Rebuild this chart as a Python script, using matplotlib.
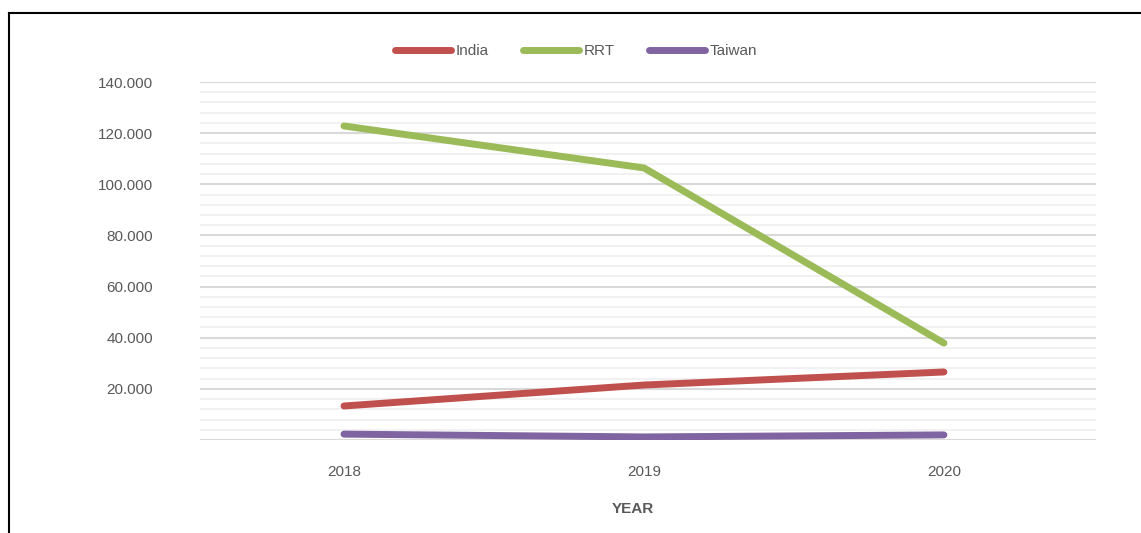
import matplotlib
matplotlib.use("Agg")
import matplotlib.pyplot as plt
from matplotlib.lines import Line2D
from matplotlib.ticker import MultipleLocator, FuncFormatter

years = ["2018", "2019", "2020"]
india = [13.3, 21.5, 26.6]
rrt = [122.8, 106.4, 37.9]
taiwan = [2.3, 1.2, 2.0]

plt.rcParams['font.family'] = ['Liberation Sans', 'DejaVu Sans']
TEXT = "#595959"

W, H = 1141, 533
fig = plt.figure(figsize=(W / 100, H / 100), dpi=100)
ax = fig.add_axes([200 / W, (H - 440) / H, 896 / W, 358 / H])

x = range(len(years))
ax.plot(x, india, color="#C0504D", lw=5, solid_capstyle="round", label="India")
ax.plot(x, rrt, color="#9BBB59", lw=5, solid_capstyle="round", label="RRT")
ax.plot(x, taiwan, color="#8064A2", lw=5, solid_capstyle="round", label="Taiwan")

ax.set_xlim(-0.48, 2.507)
ax.set_ylim(0, 140)
ax.yaxis.set_major_locator(MultipleLocator(20))
ax.yaxis.set_minor_locator(MultipleLocator(4))
ax.yaxis.set_major_formatter(FuncFormatter(lambda v, p: "" if v == 0 else f"{v:.0f}.000"))
ax.grid(which="major", axis="y", color="#D9D9D9", lw=1.5, zorder=0)
ax.grid(which="minor", axis="y", color="#EFEFEF", lw=1.2, zorder=0)
ax.set_axisbelow(True)
for s in ax.spines.values():
    s.set_visible(False)

ax.set_xticks(list(x))
ax.set_xticklabels(years)
ax.tick_params(axis="x", length=0, pad=18, labelsize=11, labelcolor=TEXT)
ax.tick_params(axis="y", which="both", length=0, pad=34, labelsize=11, labelcolor=TEXT)

fig.text(633 / W, 1 - 509 / H, "YEAR", ha="center", va="center",
         fontsize=11, fontweight="bold", color=TEXT)

fig.legend(loc="center", bbox_to_anchor=(576 / W, 1 - 51 / H), ncol=3,
           frameon=False, fontsize=11, handlelength=3.7, handletextpad=0.3,
           columnspacing=2.2, labelcolor=TEXT)

# outer frame, only top and left edges
fig.add_artist(Line2D([9 / W, 1.0], [1 - 13 / H, 1 - 13 / H], color="black", lw=1.5,
                      transform=fig.transFigure))
fig.add_artist(Line2D([9 / W, 9 / W], [1 - 13 / H, 0], color="black", lw=1.5,
                      transform=fig.transFigure))

fig.savefig("out.png", dpi=100)
